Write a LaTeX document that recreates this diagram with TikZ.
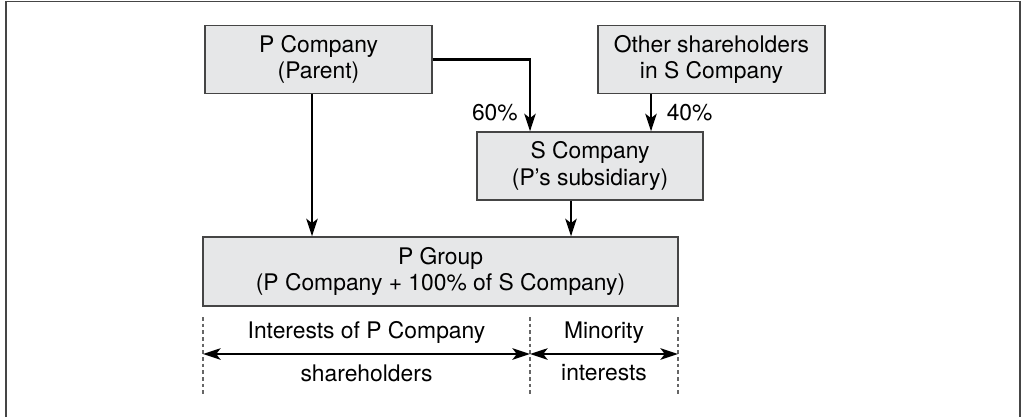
\documentclass[tikz,border=0pt]{standalone}
\usepackage{fontspec}
\setmainfont{TeX Gyre Heros}
\usetikzlibrary{arrows.meta,calc}
\definecolor{boxfill}{HTML}{E6E7E8}
\definecolor{boxline}{HTML}{454545}
\tikzset{
  cobox/.style={draw=boxline,line width=0.8pt,fill=boxfill,align=center,inner sep=0pt,minimum height=68*0.02cm},
  arr/.style={line width=1.3pt,-{Stealth[length=10pt,width=6.5pt,inset=2.5pt]}},
  dblarr/.style={line width=1.3pt,{Stealth[length=10pt,width=6.5pt,inset=2.5pt]}-{Stealth[length=10pt,width=6.5pt,inset=2.5pt]}},
  divider/.style={gray!80!black,line width=0.7pt,dash pattern=on 2pt off 1.8pt}
}
\begin{document}
\begin{tikzpicture}[x=0.02cm,y=-0.02cm,font=\fontsize{13}{15}\selectfont]
\useasboundingbox (0,0) rectangle (1027,417);
\draw[line width=1.1pt,boxline] (6,417)--(6,1.5)--(1020,1.5)--(1020,417);
\node[cobox,minimum width=227*0.02cm] (pco) at (318.5,59.5) {P Company\\(Parent)};
\node[cobox,minimum width=227*0.02cm] (oth) at (711.5,59.5) {Other shareholders\\in S Company};
\node[cobox,minimum width=226*0.02cm] (sco) at (590,166) {S Company\\(P’s subsidiary)};
\node[cobox,minimum width=475*0.02cm,minimum height=69*0.02cm] (grp) at (440.5,271.5) {P Group\\(P Company + 100\% of S Company)};
\coordinate (xa) at (530,0); \coordinate (xb) at (651,0); \coordinate (xc) at (312,0); \coordinate (xd) at (571,0);
\draw[arr] (pco.east) -| (sco.north -| xa) node[pos=0.87,left=3pt] (p60) {60\%};
\draw[arr] (oth.south -| xb) -- (sco.north -| xb) node[midway,right=5pt] (p40) {40\%};
\draw[arr] (pco.south -| xc) -- (grp.north -| xc);
\draw[arr] (sco.south -| xd) -- (grp.north -| xd);
\coordinate (dl) at (203,317); \coordinate (dm) at (530,317); \coordinate (dr) at (678,317);
\foreach \c in {dl,dm,dr} \draw[divider] (\c) -- ++(0,78);
\draw[dblarr] ($(dl)+(0,37)$) -- ($(dm)+(0,37)$) node[midway,above=2pt] (intp) {Interests of P Company} node[midway,below=2pt] (shr) {shareholders};
\draw[dblarr] ($(dm)+(0,37)$) -- ($(dr)+(0,37)$) node[midway,above=2pt] (mino) {Minority} node[midway,below=2pt] (mint) {interests};
\end{tikzpicture}
\end{document}
